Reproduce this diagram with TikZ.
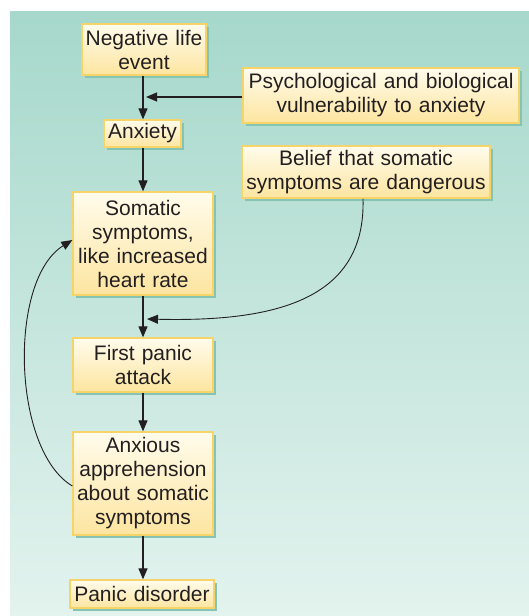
\documentclass[tikz,border=0pt]{standalone}
\usepackage{fontspec}
\setmainfont{Liberation Sans}
\usetikzlibrary{arrows.meta,shadows}
\definecolor{bgtop}{HTML}{A6D8CB}
\definecolor{bgbot}{HTML}{E3F3EE}
\definecolor{boxtop}{HTML}{FFFCEC}
\definecolor{boxbot}{HTML}{FDE5A0}
\definecolor{boxline}{HTML}{F6D46A}
\definecolor{boxshadow}{HTML}{86C3B2}
\definecolor{ink}{HTML}{231F20}
\tikzset{
  stepbox/.style={rectangle, draw=boxline, line width=1.3pt,
    top color=boxtop, bottom color=boxbot, inner sep=0pt,
    align=center, text=ink,
    font=\fontsize{21}{24}\selectfont,
    general shadow={fill=boxshadow, draw=none, shadow xshift=3pt, shadow yshift=-3pt}},
  link/.style={draw=ink, line width=1.2pt, -{Triangle[length=11pt,width=9pt]}},
  curvelink/.style={draw=ink, line width=0.9pt, -{Triangle[length=11pt,width=9pt]}}
}
\begin{document}
\begin{tikzpicture}[x=1pt,y=-1pt]
\useasboundingbox (0,0) rectangle (529,616);
% backdrop
\fill[white] (0,0) rectangle (529,616);
\shade[top color=bgtop, bottom color=bgbot] (10,11) rectangle (529,616);

% boxes
\node[stepbox, minimum width=124pt, minimum height=51pt, text width=124pt] (neg) at (144,49.5) {Negative life\\event};
\node[stepbox, minimum width=77pt, minimum height=27pt, text width=77pt] (anx) at (142.5,133.5) {Anxiety};
\node[stepbox, minimum width=276pt, minimum height=55pt, text width=276pt] (psy) at (381,95.5) {Psychological and biological\\vulnerability to anxiety};
\node[stepbox, minimum width=248pt, minimum height=52pt, text width=248pt] (bel) at (366,172) {Belief that somatic\\symptoms are dangerous};
\node[stepbox, minimum width=140pt, minimum height=103pt, text width=140pt] (som) at (143,243.5) {Somatic\\symptoms,\\like increased\\heart rate};
\node[stepbox, minimum width=140pt, minimum height=54pt, text width=140pt] (fpa) at (143,365) {First panic\\attack};
\node[stepbox, minimum width=140pt, minimum height=103pt, text width=140pt] (app) at (143,483.5) {Anxious\\apprehension\\about somatic\\symptoms};
\node[stepbox, minimum width=144pt, minimum height=28pt, text width=144pt] (pd) at (142,594) {Panic disorder};

% merge points on the main chain
\coordinate (vmerge) at (146,97);
\coordinate (bmerge) at (147,319);

% main chain
\draw[link] (neg.south -| 143,0) -- (anx.north -| 143,0);
\draw[link] (anx.south -| 143,0) -- (som.north -| 143,0);
\draw[link] (som.south -| 143,0) -- (fpa.north -| 143,0);
\draw[link] (fpa.south -| 143,0) -- (app.north -| 143,0);
\draw[link] (app.south -| 143,0) -- (pd.north -| 143,0);

% side influences
\draw[link] (psy.west |- vmerge) -- (vmerge);
\draw[curvelink] (bel.south -| 363,0) .. controls (366,300) and (275,322) .. (bmerge);

% feedback loop
\draw[curvelink] (app.west |- 0,486) .. controls (12,450) and (8,280) .. (som.west |- 0,240);
\end{tikzpicture}
\end{document}
